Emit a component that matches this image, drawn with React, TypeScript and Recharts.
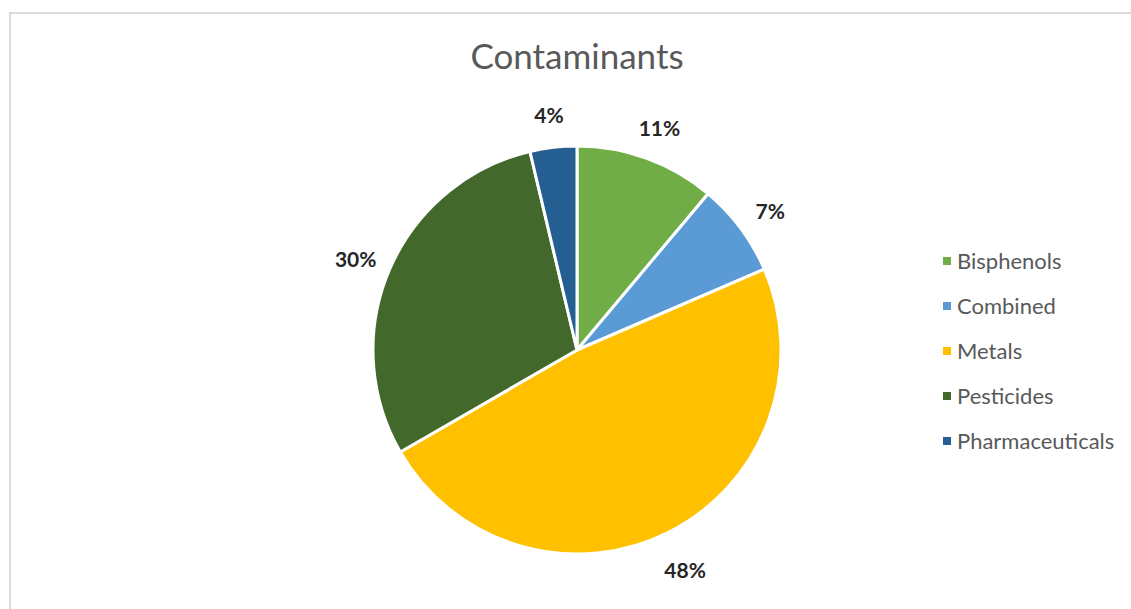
import React from "react";
import { PieChart, Pie, Cell, Legend } from "recharts";

const categories = ["Bisphenols", "Combined", "Metals", "Pesticides", "Pharmaceuticals"];
const counts = [3, 2, 13, 8, 1];
const colors = ["#70AD47", "#5B9BD5", "#FFC000", "#43682B", "#255E91"];

const data = categories.map((name, i) => ({ name, value: counts[i] }));
const total = counts.reduce((a, b) => a + b, 0);

const RAD = Math.PI / 180;

function renderLabel(props: any) {
  const { cx, cy, midAngle, outerRadius, value } = props;
  const r = outerRadius + 37;
  const x = cx + r * Math.cos(-midAngle * RAD);
  const y = cy + r * Math.sin(-midAngle * RAD) + 4;
  return (
    <text
      x={x}
      y={y}
      textAnchor="middle"
      dominantBaseline="central"
      fill="#262626"
      fontSize={21}
      fontWeight={700}
      fontFamily="Lato, sans-serif"
    >
      {`${Math.round((value / total) * 100)}%`}
    </text>
  );
}

function LegendList() {
  return (
    <div style={{ fontFamily: "Lato, sans-serif" }}>
      {categories.map((c, i) => (
        <div
          key={c}
          style={{ display: "flex", alignItems: "center", height: 45, color: "#595959", fontSize: 22 }}
        >
          <span
            style={{ width: 8, height: 8, background: colors[i], display: "inline-block", marginRight: 6 }}
          />
          {c}
        </div>
      ))}
    </div>
  );
}

export default function App() {
  return (
    <div style={{ position: "fixed", left: 0, top: 0, width: 1131, height: 609, overflow: "hidden", background: "#fff" }}>
      <div
        style={{
          position: "absolute",
          left: 9,
          top: 12,
          width: 1200,
          height: 700,
          borderLeft: "2px solid #d9d9d9",
          borderTop: "2px solid #d9d9d9",
        }}
      />
      <div
        style={{
          position: "absolute",
          left: 0,
          top: 34,
          width: 1154,
          textAlign: "center",
          fontFamily: "Lato, sans-serif",
          fontSize: 35,
          color: "#595959",
        }}
      >
        Contaminants
      </div>
      <div style={{ position: "absolute", left: 0, top: 0 }}>
        <PieChart width={1131} height={609} margin={{ top: 0, right: 0, bottom: 0, left: 0 }}>
          <Pie
            data={data}
            dataKey="value"
            nameKey="name"
            cx={577}
            cy={350}
            outerRadius={204}
            startAngle={90}
            endAngle={-270}
            stroke="#ffffff"
            strokeWidth={3}
            label={renderLabel}
            labelLine={false}
            isAnimationActive={false}
          >
            {data.map((d, i) => (
              <Cell key={d.name} fill={colors[i]} />
            ))}
          </Pie>
          <Legend
            layout="vertical"
            content={() => <LegendList />}
            wrapperStyle={{ position: "absolute", left: 943, top: 238, width: 188 }}
          />
        </PieChart>
      </div>
    </div>
  );
}
